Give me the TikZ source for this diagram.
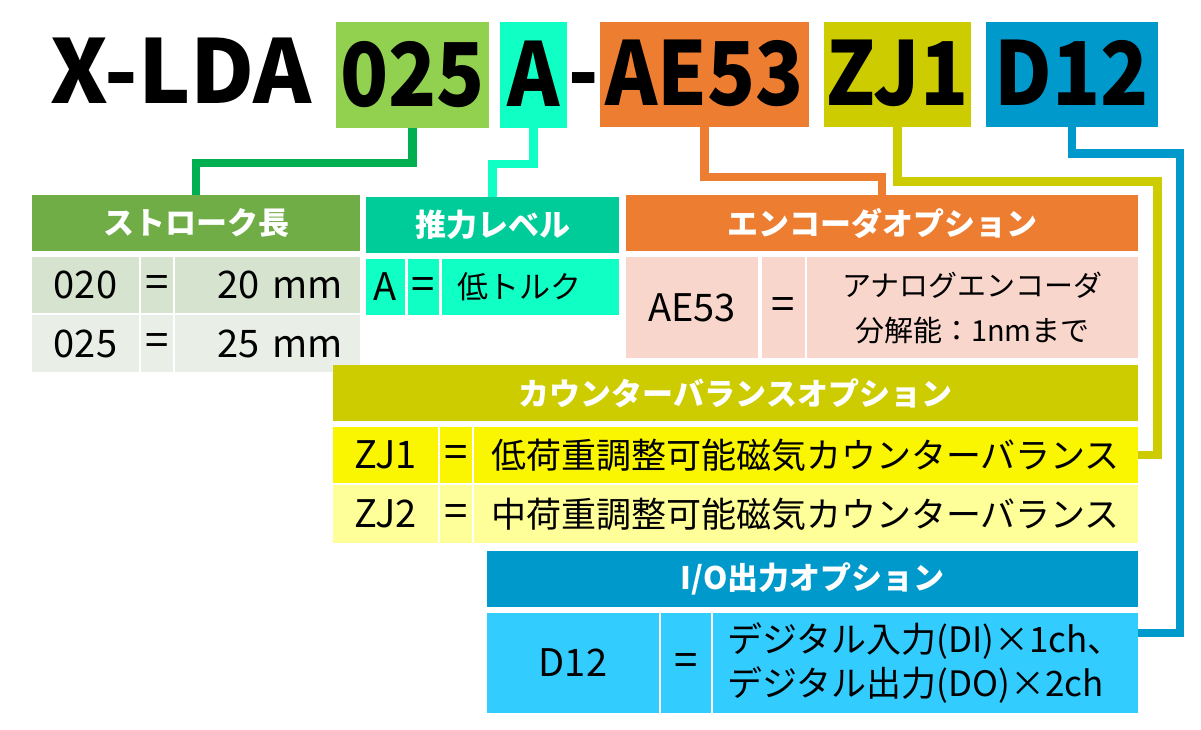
\documentclass[tikz,border=0pt]{standalone}
\usepackage{fontspec}
\setmainfont{Noto Sans CJK JP}
\newfontfamily\titlefont{Noto Sans CJK JP}[FakeStretch=0.9]
\definecolor{cStroke}{HTML}{92D050}
\definecolor{cStrokeH}{HTML}{70AD47}
\definecolor{cStrokeA}{HTML}{D5E3CF}
\definecolor{cStrokeB}{HTML}{E9EFE7}
\definecolor{cStrokeL}{HTML}{00B050}
\definecolor{cThrust}{HTML}{10FFC4}
\definecolor{cThrustH}{HTML}{00CC99}
\definecolor{cEnc}{HTML}{ED7D31}
\definecolor{cEncA}{HTML}{F8D6CC}
\definecolor{cBal}{HTML}{CCCC00}
\definecolor{cBalA}{HTML}{FAF500}
\definecolor{cBalB}{HTML}{FFFF99}
\definecolor{cIO}{HTML}{0099CC}
\definecolor{cIOA}{HTML}{33CCFF}
\begin{document}
\begin{tikzpicture}[x=1pt,y=-1pt,line join=miter,
	box/.style={anchor=north west,inner sep=0pt,outer sep=0pt},
	tbox/.style={box,minimum height=106pt,text height=63pt,text depth=0pt,font=\fontsize{88}{88}\titlefont\bfseries},
	hdr/.style={box,minimum height=56pt,text=white,font=\fontsize{31}{31}\selectfont\bfseries},
	cell/.style={box,minimum height=56pt,font=\fontsize{38}{38}\selectfont},
	eq/.style={cell,text height=24pt,text depth=0pt,font=\fontsize{42}{42}\selectfont},
	conn/.style={line width=8.5pt}]
	\useasboundingbox (0,0) rectangle (1201,730);
	% model code
	\node[anchor=base west,inner sep=0pt,font=\fontsize{88}{88}\selectfont\bfseries] (tX) at (50,104) {X-LDA};
	\node[tbox,fill=cStroke,minimum width=153pt] (t025) at (336,22) {025};
	\node[tbox,fill=cThrust,minimum width=67pt] (tA) at (500,22) {A};
	\node[anchor=base,inner sep=0pt,font=\fontsize{88}{88}\titlefont\bfseries] (tH) at (584,104) {-};
	\node[tbox,fill=cEnc,minimum width=209pt,minimum height=105pt] (tAE) at (600,22) {AE53};
	\node[tbox,fill=cBal,minimum width=147pt,minimum height=105pt] (tZJ) at (824,22) {ZJ1};
	\node[tbox,fill=cIO,minimum width=172pt,minimum height=105pt] (tD) at (986,22) {D12};
	% stroke
	\node[hdr,fill=cStrokeH,minimum width=328pt] (hS) at (32,195) {ストローク長};
	\node[cell,fill=cStrokeA,minimum width=107pt] (s1a) at (32,257) {020};
	\node[eq,fill=cStrokeA,minimum width=32pt] (s1b) at (141,257) {=};
	\node[cell,fill=cStrokeA,minimum width=185pt,text width=150pt,align=right] (s1c) at (175,257) {20 mm};
	\node[cell,fill=cStrokeB,minimum width=107pt,minimum height=57pt] (s2a) at (32,315) {025};
	\node[eq,fill=cStrokeB,minimum width=32pt,minimum height=57pt] (s2b) at (141,315) {=};
	\node[cell,fill=cStrokeB,minimum width=185pt,minimum height=57pt,text width=150pt,align=right] (s2c) at (175,315) {25 mm};
	% thrust
	\node[hdr,fill=cThrustH,minimum width=253pt] (hT) at (366,197) {推力レベル};
	\node[cell,fill=cThrust,minimum width=39pt] (r1a) at (366,259) {A};
	\node[eq,fill=cThrust,minimum width=31pt] (r1b) at (408,259) {=};
	\node[cell,fill=cThrust,minimum width=177pt,text width=147pt,align=left,font=\fontsize{31}{31}\selectfont] (r1c) at (442,259) {低トルク};
	% encoder
	\node[hdr,fill=cEnc,minimum width=512pt] (hE) at (626,195) {エンコーダオプション};
	\node[cell,fill=cEncA,minimum width=132pt,minimum height=101pt] (e1a) at (626,257) {AE53};
	\node[eq,fill=cEncA,minimum width=43pt,minimum height=101pt] (e1b) at (762,257) {=};
	\node[cell,fill=cEncA,minimum width=331pt,minimum height=101pt,align=center,font=\fontsize{29}{45}\selectfont] (e1c) at (807,257) {アナログエンコーダ\\分解能：1nmまで};
	% counter balance
	\node[hdr,fill=cBal,minimum width=805pt] (hB) at (333,365) {カウンターバランスオプション};
	\node[cell,fill=cBalA,minimum width=105pt] (b1a) at (333,427) {ZJ1};
	\node[eq,fill=cBalA,minimum width=32pt] (b1b) at (440,427) {=};
	\node[cell,fill=cBalA,minimum width=664pt,text width=630pt,align=left,font=\fontsize{35}{35}\selectfont] (b1c) at (474,427) {低荷重調整可能磁気カウンターバランス};
	\node[cell,fill=cBalB,minimum width=105pt,minimum height=58pt] (b2a) at (333,485) {ZJ2};
	\node[eq,fill=cBalB,minimum width=32pt,minimum height=58pt] (b2b) at (440,485) {=};
	\node[cell,fill=cBalB,minimum width=664pt,minimum height=58pt,text width=630pt,align=left,font=\fontsize{35}{35}\selectfont] (b2c) at (474,485) {中荷重調整可能磁気カウンターバランス};
	% I/O
	\node[hdr,fill=cIO,minimum width=651pt] (hI) at (487,551) {I/O出力オプション};
	\node[cell,fill=cIOA,minimum width=172pt,minimum height=100pt] (i1a) at (487,613) {D12};
	\node[eq,fill=cIOA,minimum width=50pt,minimum height=100pt] (i1b) at (661,613) {=};
	\node[cell,fill=cIOA,minimum width=425pt,minimum height=100pt,text width=397pt,align=left,font=\fontsize{35}{44}\selectfont] (i1c) at (713,613) {デジタル入力(DI)×1ch、\\デジタル出力(DO)×2ch};
	\coordinate (ioEnd) at (1138,633);
	% connectors
	\draw[conn,cStrokeL] (t025.south) -- ++(0,35) -| (hS.north);
	\draw[conn,cThrust] (tA.south) -- ++(0,36) -| (hT.north);
	\draw[conn,cEnc] (tAE.south) -- ++(0,50) -| (hE.north);
	\draw[conn,cBal] (tZJ.south) -- ++(0,54.5) -| ([xshift=19.5pt]b1c.east) -- (b1c.east);
	\draw[conn,cIO] (tD.south) -- ++(0,26.5) -| ([xshift=42pt]ioEnd) -- (ioEnd);
\end{tikzpicture}
\end{document}
